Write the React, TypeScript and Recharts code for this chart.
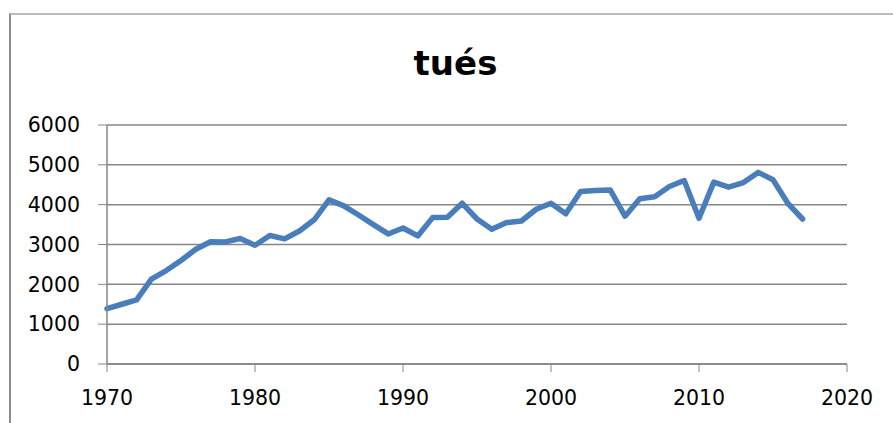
import { LineChart, Line, XAxis, YAxis, CartesianGrid } from "recharts"

const years = [
  1970, 1971, 1972, 1973, 1974, 1975, 1976, 1977, 1978, 1979,
  1980, 1981, 1982, 1983, 1984, 1985, 1986, 1987, 1988, 1989,
  1990, 1991, 1992, 1993, 1994, 1995, 1996, 1997, 1998, 1999,
  2000, 2001, 2002, 2003, 2004, 2005, 2006, 2007, 2008, 2009,
  2010, 2011, 2012, 2013, 2014, 2015, 2016, 2017,
]

const tues = [
  1390, 1500, 1610, 2130, 2345, 2600, 2880, 3070, 3065, 3150,
  2980, 3225, 3140, 3340, 3620, 4120, 3970, 3740, 3500, 3265,
  3415, 3215, 3675, 3685, 4035, 3640, 3380, 3550, 3590, 3885,
  4035, 3770, 4330, 4355, 4370, 3710, 4150, 4200, 4455, 4605,
  3660, 4565, 4440, 4555, 4810, 4625, 4035, 3640,
]

const xTicks = [1970, 1980, 1990, 2000, 2010, 2020]
const yTicks = [0, 1000, 2000, 3000, 4000, 5000, 6000]

const data = years.map((year, i) => ({ year, tues: tues[i] }))

const tickStyle = { fontFamily: "DejaVu Sans", fontSize: 20.5, fill: "#000" }

export default function App() {
  return (
    <div style={{ position: "absolute", top: 0, left: 0, width: 893, height: 423, background: "#fff" }}>
      <div
        style={{
          position: "absolute",
          top: 13,
          left: 9,
          right: 0,
          bottom: 0,
          borderTop: "2px solid #bcbcbc",
          borderLeft: "2px solid #8c8c8c",
        }}
      />
      <div
        style={{
          position: "absolute",
          top: 43,
          left: 0,
          width: 911,
          textAlign: "center",
          fontFamily: "DejaVu Sans",
          fontWeight: "bold",
          fontSize: 34,
        }}
      >
        tués
      </div>
      <LineChart
        width={893}
        height={423}
        data={data}
        margin={{ top: 125, right: 46, bottom: 9, left: 0 }}
        style={{ position: "absolute", top: 0, left: 0 }}
      >
        <CartesianGrid vertical={false} stroke="#868686" strokeWidth={1.5} />
        <XAxis
          dataKey="year"
          type="number"
          domain={[1970, 2020]}
          ticks={xTicks}
          tickSize={8}
          tickMargin={18}
          height={50}
          stroke="#868686"
          tick={tickStyle}
          axisLine={{ stroke: "#868686", strokeWidth: 1.5 }}
        />
        <YAxis
          domain={[0, 6000]}
          ticks={yTicks}
          width={107}
          tickSize={9}
          tickMargin={18}
          stroke="#868686"
          tick={tickStyle}
          axisLine={{ stroke: "#868686", strokeWidth: 1.5 }}
        />
        <Line
          dataKey="tues"
          stroke="#4a7ebb"
          strokeWidth={5.5}
          dot={false}
          strokeLinejoin="round"
          strokeLinecap="round"
          isAnimationActive={false}
        />
      </LineChart>
    </div>
  )
}
